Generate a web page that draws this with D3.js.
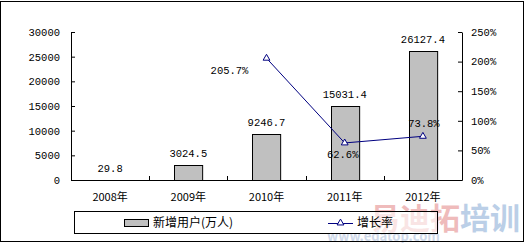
<!DOCTYPE html>
<html>
<head>
<meta charset="utf-8">
<script src="https://cdn.jsdelivr.net/npm/d3@7"></script>
<style>
  body { margin: 0; background: #fff; }
  svg { display: block; font-family: "Noto Sans CJK SC", sans-serif; }
  .num { font-family: "Liberation Mono", "DejaVu Sans Mono", monospace; font-size: 10.5px; }
</style>
</head>
<body>
<svg id="chart" width="526" height="243"></svg>
<script>
var years = ["2008年", "2009年", "2010年", "2011年", "2012年"];
var newUsers = [29.8, 3024.5, 9246.7, 15031.4, 26127.4];
var growthYears = ["2010年", "2011年", "2012年"];
var growth = [205.7, 62.6, 73.8];
var growthLabels = ["205.7%", "62.6%", "73.8%"];
var leftTicks = [0, 5000, 10000, 15000, 20000, 25000, 30000];
var rightTicks = [0, 50, 100, 150, 200, 250];

var margin = {top: 32, right: 64, bottom: 63, left: 71};
var width = 526 - margin.left - margin.right;
var height = 243 - margin.top - margin.bottom;

var svg = d3.select("#chart");

// watermark, drawn first so the chart sits on top
var wm = svg.append("g").attr("opacity", 0.5).attr("font-weight", "bold");
wm.append("text")
    .attr("x", 370).attr("y", 229)
    .attr("font-size", 30)
    .attr("fill", "#e07a7a")
    .text("易迪拓");
wm.append("text")
    .attr("x", 460).attr("y", 229)
    .attr("font-size", 30)
    .attr("fill", "#7aa0d0")
    .text("培训");
wm.append("text")
    .attr("x", 327).attr("y", 241)
    .attr("font-size", 13)
    .attr("fill", "#9fb4d6")
    .text("www.edatop.com");

// outer frame
svg.append("rect")
    .attr("x", 0.5).attr("y", 1.5)
    .attr("width", 523).attr("height", 240)
    .attr("fill", "none").attr("stroke", "#000");

var g = svg.append("g")
    .attr("transform", "translate(" + margin.left + "," + margin.top + ")");

var x = d3.scaleBand().domain(years).range([0, width]);
var y = d3.scaleLinear().domain([0, 30000]).range([height, 0]);
var y2 = d3.scaleLinear().domain([0, 250]).range([height, 0]);

var barW = x.bandwidth() * 0.36;

g.selectAll(".bar")
  .data(newUsers)
  .enter().append("rect")
    .attr("class", "bar")
    .attr("x", function(d, i) { return Math.round(x(years[i]) + x.bandwidth() / 2 - barW / 2) + 0.5; })
    .attr("y", function(d) { return Math.round(y(d)) + 0.5; })
    .attr("width", barW)
    .attr("height", function(d) { return height - Math.round(y(d)); })
    .attr("fill", "#c0c0c0")
    .attr("stroke", "#000");

g.selectAll(".bar-label")
  .data(newUsers)
  .enter().append("text")
    .attr("class", "bar-label num")
    .attr("x", function(d, i) { return x(years[i]) + x.bandwidth() / 2; })
    .attr("y", function(d) { return y(d) - 8; })
    .attr("text-anchor", "middle")
    .text(function(d) { return d; });

// axes
var xAxis = g.append("g")
    .attr("transform", "translate(0," + height + ")")
    .call(d3.axisBottom(x).tickSize(0).tickPadding(13));
xAxis.selectAll(".tick text").attr("font-size", 11).attr("font-family", "Noto Sans CJK SC");
xAxis.select(".domain").attr("stroke", "#000");
xAxis.selectAll(".sep")
  .data(d3.range(years.length + 1))
  .enter().append("line")
    .attr("class", "sep")
    .attr("x1", function(i) { return Math.round(i * x.step()) + 0.5; })
    .attr("x2", function(i) { return Math.round(i * x.step()) + 0.5; })
    .attr("y1", 0).attr("y2", -4)
    .attr("stroke", "#000");

var yAxis = g.append("g")
    .call(d3.axisLeft(y).tickValues(leftTicks).tickSizeInner(-4).tickSizeOuter(0).tickPadding(11).tickFormat(d3.format("d")));
yAxis.selectAll(".tick text").attr("class", "num").attr("font-size", null).attr("font-family", null);

var y2Axis = g.append("g")
    .attr("transform", "translate(" + width + ",0)")
    .call(d3.axisRight(y2).tickValues(rightTicks).tickSizeInner(-4).tickSizeOuter(0).tickPadding(9).tickFormat(function(d) { return d + "%"; }));
y2Axis.selectAll(".tick text").attr("class", "num").attr("font-size", null).attr("font-family", null);

// growth line
var cx = function(i) { return x(growthYears[i]) + x.bandwidth() / 2; };
var line = d3.line()
    .x(function(d, i) { return cx(i); })
    .y(function(d) { return y2(d); });

g.append("path")
    .datum(growth)
    .attr("d", line)
    .attr("fill", "none")
    .attr("stroke", "#000080")
    .attr("stroke-width", 1);

var tri = d3.symbol().type(d3.symbolTriangle).size(20);
g.selectAll(".marker")
  .data(growth)
  .enter().append("path")
    .attr("class", "marker")
    .attr("d", tri)
    .attr("transform", function(d, i) { return "translate(" + cx(i) + "," + y2(d) + ")"; })
    .attr("fill", "#fff")
    .attr("stroke", "#000080");

var labelOffset = [[-37, 16], [-2, 15], [1, -9]];
g.selectAll(".growth-label")
  .data(growth)
  .enter().append("text")
    .attr("class", "growth-label num")
    .attr("x", function(d, i) { return cx(i) + labelOffset[i][0]; })
    .attr("y", function(d, i) { return y2(d) + labelOffset[i][1]; })
    .attr("text-anchor", "middle")
    .text(function(d, i) { return growthLabels[i]; });

// legend
var legend = svg.append("g");
legend.append("rect")
    .attr("x", 74.5).attr("y", 211.5)
    .attr("width", 363).attr("height", 22)
    .attr("fill", "#fff").attr("fill-opacity", 0.6).attr("stroke", "#000");
legend.append("rect")
    .attr("x", 124.5).attr("y", 219.5)
    .attr("width", 24).attr("height", 7)
    .attr("fill", "#c0c0c0").attr("stroke", "#000");
legend.append("text")
    .attr("x", 153).attr("y", 227)
    .attr("font-size", 12)
    .text("新增用户(万人)");
legend.append("line")
    .attr("x1", 328).attr("x2", 353)
    .attr("y1", 223.5).attr("y2", 223.5)
    .attr("stroke", "#000080");
legend.append("path")
    .attr("d", tri)
    .attr("transform", "translate(340.5,223)")
    .attr("fill", "#fff").attr("stroke", "#000080");
legend.append("text")
    .attr("x", 357).attr("y", 227)
    .attr("font-size", 12)
    .text("增长率");
</script>
</body>
</html>
